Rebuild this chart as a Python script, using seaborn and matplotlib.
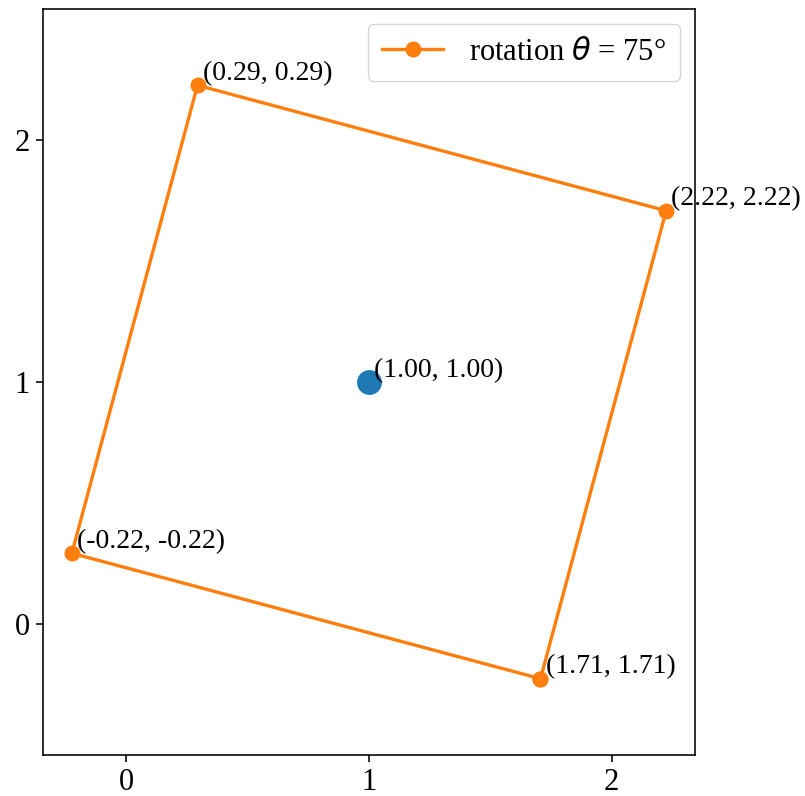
import matplotlib
matplotlib.use("Agg")
import matplotlib.pyplot as plt
import seaborn as sns
import pandas as pd

# rotated square vertices (closed polygon)
vx = [1.707, 2.225, 0.293, -0.225, 1.707]
vy = [-0.225, 1.707, 2.225, 0.293, -0.225]
vlabels = ["(1.71, 1.71)", "(2.22, 2.22)", "(0.29, 0.29)", "(-0.22, -0.22)"]
center_x = [1.0]
center_y = [1.0]
center_label = "(1.00, 1.00)"
legend_label = "rotation $\\theta$ = 75°"

plt.rcParams['font.family'] = ['Liberation Serif', 'DejaVu Serif']
plt.rcParams['font.size'] = 22
plt.rcParams['mathtext.fontset'] = 'dejavusans'
plt.rcParams['axes.linewidth'] = 1.15
for a in ('xtick', 'ytick'):
    plt.rcParams[f'{a}.major.size'] = 5
    plt.rcParams[f'{a}.major.width'] = 1.15
    plt.rcParams[f'{a}.major.pad'] = 4.3
    plt.rcParams[f'{a}.labelsize'] = 22

fig = plt.figure(figsize=(8.05, 7.96), dpi=100)
ax = fig.add_axes([43/805, 41/796, 652/805, 746/796])

df = pd.DataFrame({"x": vx, "y": vy})
sns.lineplot(data=df, x="x", y="y", sort=False, estimator=None, color="#ff7f0e",
             marker="o", markersize=11.5, markeredgewidth=0, linewidth=2.4,
             label=legend_label, ax=ax)
sns.scatterplot(x=center_x, y=center_y, color="#1f77b4", s=320, linewidth=0, ax=ax)

for x, y, t in zip(vx[:-1], vy[:-1], vlabels):
    ax.text(x + 0.022, y + 0.022, t, fontsize=20, zorder=2)
ax.text(center_x[0] + 0.022, center_y[0] + 0.022, center_label, fontsize=20, zorder=2)

ax.set_xlim(-0.344, 2.344)
ax.set_ylim(-0.54, 2.54)
ax.set_xticks([0, 1, 2])
ax.set_yticks([0, 1, 2])
ax.set_xlabel("")
ax.set_ylabel("")
ax.legend(loc="upper right", fontsize=22, borderpad=0.45, handletextpad=0.85)

fig.savefig("out.png", dpi=100)
